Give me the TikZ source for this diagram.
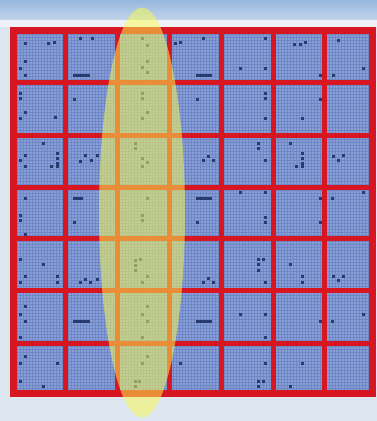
\documentclass[tikz,border=0pt]{standalone}
\definecolor{bgc}{RGB}{221,229,240}
\definecolor{skyA}{RGB}{150,184,222}
\definecolor{skyB}{RGB}{196,214,236}
\definecolor{bandc}{RGB}{238,242,248}
\definecolor{cellc}{RGB}{136,160,214}
\definecolor{texc}{RGB}{110,134,198}
\definecolor{redc}{RGB}{215,22,34}
\definecolor{dotc}{RGB}{40,58,112}
\definecolor{yel}{RGB}{250,252,80}
\tikzset{
  dotmark/.style={fill=dotc},
  gridline/.style={draw=redc,line width=5pt},
  outerline/.style={draw=redc,line width=7pt},
  hilite/.style={fill=yel,opacity=0.52},
  texline/.style={draw=texc,line width=0.5pt}
}
\begin{document}
\begin{tikzpicture}[x=1pt,y=-1pt]
\useasboundingbox (0,0) rectangle (377,421);
% background
\fill[bgc] (0,0) rectangle (377,421);
\shade[top color=skyA,bottom color=skyB] (0,0) rectangle (377,21);
\fill[bandc] (0,20) rectangle (377,27);
% cells
\fill[cellc] (13,30) rectangle (372,393);
\foreach \x in {14.5,17.5,...,372}
 \draw[texline] (\x,30) -- (\x,393);
\foreach \y in {31.5,34.5,...,393}
 \draw[texline] (13,\y) -- (372,\y);
% braille-like marks
\foreach \x/\y in {
 25/43,48/43,54/42,25/61,20/68,25/75,80/38,92/38,142/38,147/45,147/61,142/67,147/72,
 175/43,180/42,203/38,265/38,240/68,265/68,294/44,300/44,305/42,320/75,333/75,338/40,363/68,
 20/93,20/98,25/112,20/118,55/117,74/99,142/93,142/98,147/112,142/118,197/99,
 265/93,265/98,265/118,302/118,320/99,
 43/143,25/155,20/160,25/166,57/153,57/158,57/163,57/166,51/166,80/161,85/155,91/160,97/155,
 135/143,135/148,142/158,147/162,142/166,203/160,208/156,213/160,258/143,258/148,265/160,
 290/143,302/153,302/158,302/163,302/166,296/166,333/156,338/160,343/155,
 25/198,20/215,20/220,25/234,74/222,147/198,142/215,142/220,197/222,240/192,265/192,
 265/217,265/222,320/198,320/222,332/198,363/192,
 20/259,43/264,25/276,20/282,57/276,57/282,80/282,85/279,90/282,97/279,
 135/260,135/265,135/270,140/259,147/276,142/282,203/282,208/278,213/282,
 258/259,258/264,258/270,263/259,265/282,290/264,302/276,302/282,333/276,338/280,343/276,
 25/306,20/314,25/321,20/337,147/306,142/314,147/321,142/337,240/314,265/314,265/337,
 320/321,332/321,363/314,
 25/356,20/363,57/363,20/381,43/386,147/356,142/363,135/381,135/386,139/381,180/363,
 265/363,258/381,258/386,263/381,302/363,290/386}
 \fill[dotmark] (\x-1.5,\y-1.5) rectangle (\x+1.5,\y+1.5);
\foreach \xa/\xb/\y in {74/88/75,197/210/75,74/81/198,197/210/198,74/88/321,197/210/321}
 \fill[dotmark] (\xa-1.5,\y-1.5) rectangle (\xb+1.5,\y+1.5);
% red grid
\foreach \x in {65,117,169,221,273,324}
 \draw[gridline] (\x,30) -- (\x,393);
\foreach \y in {82,135,187,238,290,343}
 \draw[gridline] (13,\y) -- (372,\y);
\draw[outerline] (13,30) rectangle (372,393);
% highlight ellipse
\fill[hilite] (142,212.5) ellipse [x radius=43, y radius=205];
\end{tikzpicture}
\end{document}
